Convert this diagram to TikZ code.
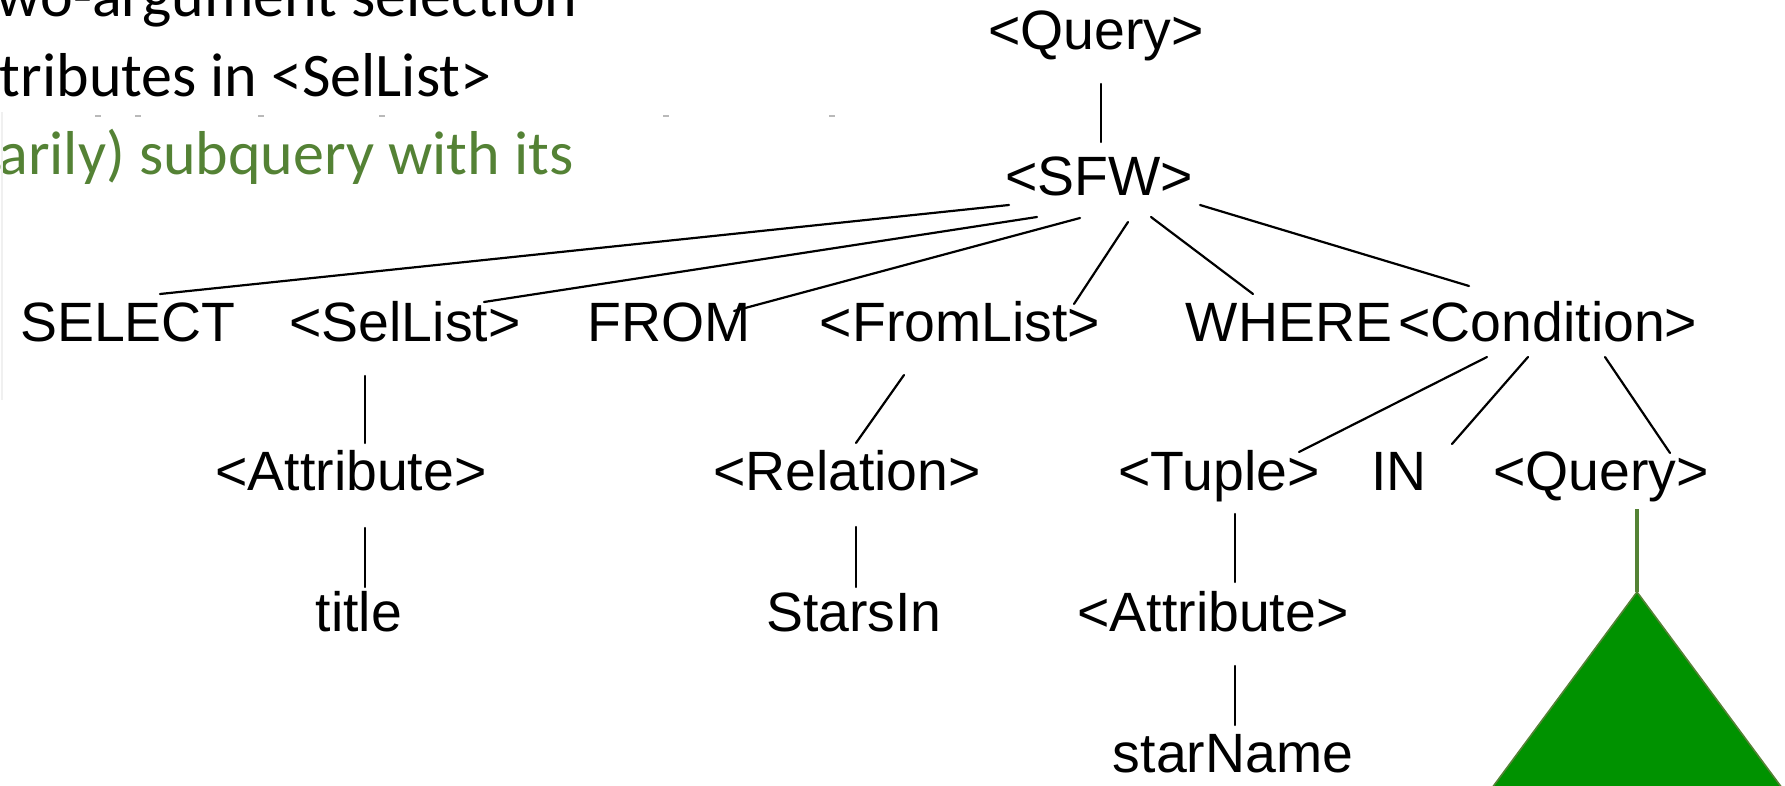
\documentclass[tikz,border=0pt]{standalone}
\usepackage{fontspec}
\setmainfont{Liberation Sans}
\newfontfamily\slidefont{Carlito}
\usetikzlibrary{calc}
\definecolor{leafgreen}{RGB}{84,130,53}
\definecolor{treefill}{RGB}{0,146,0}
\begin{document}
\begin{tikzpicture}[x=0.5pt,y=-0.5pt,
  lbl/.style={font=\fontsize{27.7pt}{30pt}\selectfont, inner sep=0pt, anchor=base},
  edge/.style={line width=1.1pt, line cap=round},
  slide/.style={font=\slidefont\fontsize{31pt}{36pt}\selectfont, inner sep=0pt, anchor=base east},
  subedge/.style={draw=leafgreen, line width=2.4pt}]
\useasboundingbox (0,0) rectangle (1785,786);
\clip (0,0) rectangle (1785,786);

% slide text behind the tree
\node[slide] (s1) at (578,17) {wo-argument selection};
\node[slide] (s2) at (492,97) {tributes in <SelList>};
\node[slide, text=leafgreen] (s3) at (574,175) {arily) subquery with its};
\foreach \x in {98,138,261,382,666,832}
  \draw[gray!55, line width=1.2pt] (\x-3,116) -- (\x+3,116);
\draw[gray!12, line width=0.6pt] (2,112) -- (2,400);

% parse tree labels
\node[lbl] (q0) at (1096,50) {<Query>};
\node[lbl] (sfw) at (1099,196) {<SFW>};
\node[lbl] (select) at (128,342) {SELECT};
\node[lbl] (sellist) at (405,342) {<SelList>};
\node[lbl] (from) at (669,342) {FROM};
\node[lbl] (fromlist) at (960,342) {<FromList>};
\node[lbl] (where) at (1289,342) {WHERE};
\node[lbl] (cond) at (1548,342) {<Condition>};
\node[lbl] (attr1) at (351,491) {<Attribute>};
\node[lbl] (rel) at (847,491) {<Relation>};
\node[lbl] (tuple) at (1219,491) {<Tuple>};
\node[lbl] (in) at (1399,491) {IN};
\node[lbl] (q1) at (1601,491) {<Query>};
\node[lbl] (title) at (359,631) {title};
\node[lbl] (starsin) at (854,631) {StarsIn};
\node[lbl] (attr2) at (1213,631) {<Attribute>};
\node[lbl] (starname) at (1233,772) {starName};

% tree edges
\draw[edge] ($(q0.base)+(5,34)$) -- ($(sfw.base)+(2,-54)$);
\draw[edge] ($(sfw.base)+(-90,9)$) -- ($(select.base)+(32,-48)$);
\draw[edge] ($(sfw.base)+(-62,21)$) -- ($(sellist.base)+(79,-40)$);
\draw[edge] ($(sfw.base)+(-19,22)$) -- ($(from.base)+(65,-31)$);
\draw[edge] ($(sfw.base)+(29,26)$) -- ($(fromlist.base)+(114,-38)$);
\draw[edge] ($(sfw.base)+(52,21)$) -- ($(where.base)+(-36,-48)$);
\draw[edge] ($(sfw.base)+(101,9)$) -- ($(cond.base)+(-79,-56)$);
\draw[edge] ($(sellist.base)+(-40,34)$) -- ($(attr1.base)+(14,-48)$);
\draw[edge] ($(attr1.base)+(14,37)$) -- ($(title.base)+(6,-44)$);
\draw[edge] ($(fromlist.base)+(-56,33)$) -- ($(rel.base)+(9,-48)$);
\draw[edge] ($(rel.base)+(9,36)$) -- ($(starsin.base)+(2,-44)$);
\draw[edge] ($(cond.base)+(-61,15)$) -- ($(tuple.base)+(80,-39)$);
\draw[edge] ($(cond.base)+(-20,15)$) -- ($(in.base)+(53,-47)$);
\draw[edge] ($(cond.base)+(57,15)$) -- ($(q1.base)+(69,-38)$);
\draw[edge] ($(tuple.base)+(16,23)$) -- ($(attr2.base)+(22,-49)$);
\draw[edge] ($(attr2.base)+(22,35)$) -- ($(starname.base)+(2,-47)$);

% subquery drawn as a filled triangle
\coordinate (apex) at ($(q1.base)+(36,101)$);
\draw[subedge] ($(q1.base)+(36,18)$) -- (apex);
\filldraw[fill=treefill, draw=leafgreen, line width=0.8pt]
  (apex) -- ++(-185,250) -- ++(370,0) -- cycle;
\end{tikzpicture}
\end{document}
